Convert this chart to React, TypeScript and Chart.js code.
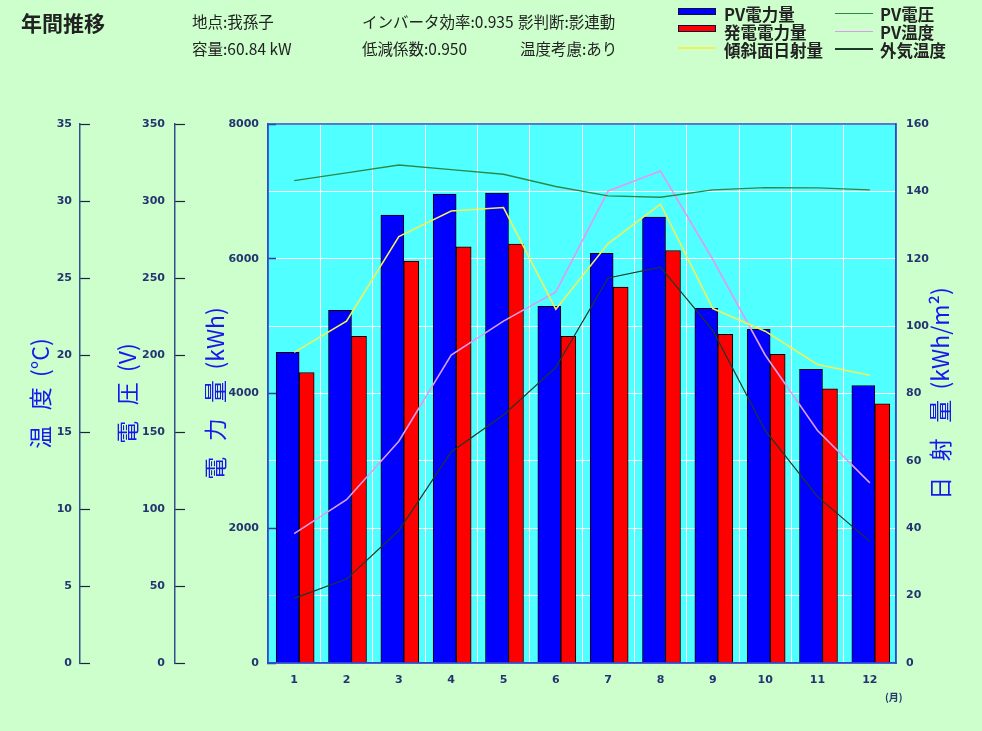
import React, { useEffect, useRef } from 'react';
import { Chart, registerables } from 'chart.js';

Chart.register(...registerables);

// ---------- data ----------
const months = ['1', '2', '3', '4', '5', '6', '7', '8', '9', '10', '11', '12'];
const pvEnergy = [4610, 5234, 6647, 6959, 6974, 5294, 6082, 6617, 5264, 4952, 4357, 4119];
const genEnergy = [4312, 4848, 5967, 6176, 6216, 4848, 5581, 6122, 4877, 4580, 4070, 3848];
const tiltIrradiance = [92.2, 101.5, 126.6, 134.2, 135.2, 105.0, 124.5, 136.2, 105.2, 98.5, 88.6, 85.4];
const pvVoltage = [313.2, 318.3, 323.4, 320.4, 317.4, 309.4, 303.3, 302.4, 307.2, 308.7, 308.5, 307.2];
const pvTemperature = [8.4, 10.6, 14.4, 20.0, 22.2, 24.1, 30.65, 31.95, 26.2, 20.0, 15.1, 11.7];
const outdoorTemperature = [4.2, 5.45, 8.6, 13.7, 16.1, 19.2, 25.0, 25.7, 21.6, 15.1, 10.8, 7.9];

const tempAxis = [0, 35, 5];
const voltAxis = [0, 350, 50];
const powerAxis = [0, 8000, 1000];
const powerLabelStep = 2000;
const irrAxis = [0, 160, 20];

const seriesLabels = ['PV電力量', '発電電力量', '傾斜面日射量', 'PV電圧', 'PV温度', '外気温度'];
const axisTitles = ['温   度  (°C)', '電   圧  (V)', '電   力   量  (kWh)', '日   射   量  (kWh/m²)'];
const headerTitle = '年間推移';
const headerRow1 = ['地点:我孫子', 'インバータ効率:0.935', '影判断:影連動'];
const headerRow2 = ['容量:60.84 kW', '低減係数:0.950', '温度考慮:あり'];
const monthUnit = '(月)';

// ---------- styles ----------
const W = 982;
const H = 731;
const PAGE_BG = '#ccffcc';
const PLOT_BG = '#50ffff';
const BLUE = '#0000ff';
const RED = '#ff0000';
const YELLOW = '#f0f058';
const GREEN = '#2a8a4a';
const PINK = '#dd9cee';
const DARK = '#1e3828';
const TICK_COLOR = '#243470';
const TITLE_COLOR = '#1818ee';
const AXIS_LINE = '#34508c';
const PLOT_BORDER = '#2c4cd0';
const CJK = '"Noto Sans CJK JP", sans-serif';
const BAR_GROUP_SHIFT = 5;

const tickFont = { family: '"DejaVu Sans", sans-serif', size: 11, weight: 'bold' as const };
const titleFont = { family: CJK, size: 23, weight: 'normal' as const };

const plotBgPlugin = {
  id: 'plotBg',
  beforeDraw(chart: any) {
    const { ctx, chartArea } = chart;
    ctx.save();
    ctx.fillStyle = PLOT_BG;
    ctx.fillRect(chartArea.left, chartArea.top, chartArea.right - chartArea.left, chartArea.bottom - chartArea.top);
    ctx.restore();
  },
};

const barShiftPlugin = {
  id: 'barShift',
  afterDatasetsUpdate(chart: any) {
    chart.data.datasets.forEach((ds: any, i: number) => {
      if (ds.type !== 'bar') return;
      chart.getDatasetMeta(i).data.forEach((el: any) => {
        el.x += BAR_GROUP_SHIFT;
      });
    });
  },
};

const borderPlugin = {
  id: 'plotBorder',
  afterDatasetsDraw(chart: any) {
    const { ctx, chartArea } = chart;
    ctx.save();
    ctx.strokeStyle = PLOT_BORDER;
    ctx.lineWidth = 1.5;
    ctx.strokeRect(chartArea.left, chartArea.top, chartArea.right - chartArea.left, chartArea.bottom - chartArea.top);
    ctx.restore();
  },
};

const rightTitlePlugin = {
  id: 'rightTitle',
  afterDraw(chart: any) {
    const { ctx, chartArea } = chart;
    const scale = chart.scales.yR;
    ctx.save();
    ctx.translate(scale.left + 44, (chartArea.top + chartArea.bottom) / 2);
    ctx.rotate(-Math.PI / 2);
    ctx.font = `${titleFont.size}px ${CJK}`;
    ctx.fillStyle = TITLE_COLOR;
    ctx.textAlign = 'center';
    ctx.textBaseline = 'middle';
    ctx.fillText(axisTitles[3], 0, 0);
    ctx.restore();
  },
};

function sideAxis(range: number[], title: string, weight: number, width: number, titlePad: number, tickLen: number, labelPad: number) {
  return {
    type: 'linear' as const,
    position: 'left' as const,
    weight,
    min: range[0],
    max: range[1],
    ticks: { stepSize: range[2], color: TICK_COLOR, font: tickFont, padding: labelPad },
    grid: { drawOnChartArea: false, drawTicks: true, tickLength: tickLen, tickColor: '#1c2440', tickWidth: 1.2 },
    border: { display: true, color: AXIS_LINE, width: 1.5 },
    title: { display: true, text: title, color: TITLE_COLOR, font: titleFont, padding: { top: titlePad, bottom: 0 } },
    afterFit(s: any) {
      s.width = width;
    },
  };
}

function ChartCanvas() {
  const ref = useRef<HTMLCanvasElement | null>(null);
  useEffect(() => {
    if (!ref.current) return;
    const chart = new Chart(ref.current, {
      type: 'bar',
      data: {
        labels: months,
        datasets: [
          { type: 'bar', label: seriesLabels[0], data: pvEnergy, backgroundColor: BLUE, borderColor: '#000000', borderWidth: 1, barThickness: 23, yAxisID: 'yP', order: 2 },
          { type: 'bar', label: seriesLabels[1], data: genEnergy, backgroundColor: RED, borderColor: '#000000', borderWidth: 1, barThickness: 15, yAxisID: 'yP', order: 2 },
          { type: 'line', label: seriesLabels[2], data: tiltIrradiance, borderColor: YELLOW, borderWidth: 1.6, pointRadius: 0, tension: 0, fill: false, yAxisID: 'yR', order: 1 },
          { type: 'line', label: seriesLabels[3], data: pvVoltage, borderColor: GREEN, borderWidth: 1.4, pointRadius: 0, tension: 0, fill: false, yAxisID: 'yV', order: 1 },
          { type: 'line', label: seriesLabels[4], data: pvTemperature, borderColor: PINK, borderWidth: 1.6, pointRadius: 0, tension: 0, fill: false, yAxisID: 'yT', order: 1 },
          { type: 'line', label: seriesLabels[5], data: outdoorTemperature, borderColor: DARK, borderWidth: 1.2, pointRadius: 0, tension: 0, fill: false, yAxisID: 'yT', order: 1 },
        ] as any,
      },
      options: {
        animation: false,
        responsive: false,
        maintainAspectRatio: false,
        layout: { padding: { left: 0, right: 0, top: 124, bottom: 0 } },
        plugins: { legend: { display: false }, tooltip: { enabled: false } },
        scales: {
          x: {
            type: 'category',
            offset: true,
            grid: { offset: true, color: '#ffffff', lineWidth: 1, drawTicks: false },
            border: { display: true, color: PLOT_BORDER, width: 1.5 },
            ticks: { color: TICK_COLOR, font: tickFont, padding: 11 },
            afterFit(s: any) {
              s.height = 68;
            },
          },
          yT: sideAxis(tempAxis, axisTitles[0], 3, 80, 26, -10, 18),
          yV: sideAxis(voltAxis, axisTitles[1], 2, 95, 33, -10, 20),
          yP: {
            type: 'linear',
            position: 'left',
            weight: 1,
            min: powerAxis[0],
            max: powerAxis[1],
            ticks: {
              stepSize: powerAxis[2],
              color: TICK_COLOR,
              font: tickFont,
              padding: 17,
              callback: (v: any) => (Number(v) % powerLabelStep === 0 ? String(v) : ''),
            },
            grid: {
              drawOnChartArea: true,
              color: '#ffffff',
              lineWidth: 1,
              drawTicks: true,
              tickLength: -8,
              tickWidth: 1.5,
              tickColor: (c: any) => (c.tick && c.tick.value % powerLabelStep === 0 ? '#2a3a90' : 'rgba(0,0,0,0)'),
            },
            border: { display: true, color: PLOT_BORDER, width: 1.5 },
            title: { display: true, text: axisTitles[2], color: TITLE_COLOR, font: titleFont, padding: { top: 26, bottom: 0 } },
            afterFit(s: any) {
              s.width = 93;
            },
          },
          yR: {
            type: 'linear',
            position: 'right',
            min: irrAxis[0],
            max: irrAxis[1],
            ticks: { stepSize: irrAxis[2], color: TICK_COLOR, font: tickFont, padding: 10 },
            grid: { drawOnChartArea: false, drawTicks: false },
            border: { display: true, color: PLOT_BORDER, width: 1.5 },
            afterFit(s: any) {
              s.width = 86;
            },
          },
        } as any,
      },
      plugins: [plotBgPlugin, barShiftPlugin, borderPlugin, rightTitlePlugin],
    });
    return () => chart.destroy();
  }, []);
  return <canvas ref={ref} width={W} height={H} style={{ position: 'absolute', left: 0, top: 0, width: W, height: H }} />;
}

function Swatch({ kind, color, left, top }: { kind: 'box' | 'line'; color: string; left: number; top: number }) {
  if (kind === 'box') {
    return <div style={{ position: 'absolute', left, top: top - 3, width: 36, height: 5, background: color, border: '1px solid #101040' }} />;
  }
  return <div style={{ position: 'absolute', left, top: top - 1, width: 38, height: 1.5, background: color }} />;
}

export default function App() {
  const text = (s: string, left: number, cy: number, size: number, bold = false, color = '#222222') => (
    <div
      key={s}
      style={{
        position: 'absolute',
        left,
        top: cy - 12,
        height: 24,
        lineHeight: '24px',
        fontSize: size,
        fontWeight: bold ? 'bold' : 'normal',
        color,
        whiteSpace: 'nowrap',
        fontFamily: CJK,
      }}
    >
      {s}
    </div>
  );
  const legendRows = [13.5, 31.5, 50];
  return (
    <div style={{ position: 'fixed', left: 0, top: 0, width: W, height: H, background: PAGE_BG, overflow: 'hidden' }}>
      <ChartCanvas />
      {text(headerTitle, 21, 22, 21, true)}
      {text(headerRow1[0], 192, 21, 15.5)}
      {text(headerRow1[1], 362, 21, 15.5)}
      {text(headerRow1[2], 518, 21, 15.5)}
      {text(headerRow2[0], 192, 48, 15.5)}
      {text(headerRow2[1], 362, 48, 15.5)}
      {text(headerRow2[2], 520, 48, 15.5)}
      <Swatch kind="box" color={BLUE} left={678} top={legendRows[0] - 3} />
      <Swatch kind="box" color={RED} left={678} top={legendRows[1] - 4} />
      <Swatch kind="line" color={YELLOW} left={678} top={legendRows[2] - 2} />
      {text(seriesLabels[0], 724, legendRows[0], 16.5, true)}
      {text(seriesLabels[1], 724, legendRows[1], 16.5, true)}
      {text(seriesLabels[2], 724, legendRows[2], 16.5, true)}
      <Swatch kind="line" color={GREEN} left={835} top={legendRows[0]} />
      <Swatch kind="line" color={PINK} left={835} top={legendRows[1]} />
      <Swatch kind="line" color={DARK} left={835} top={legendRows[2] - 1} />
      {text(seriesLabels[3], 880, legendRows[0], 16.5, true)}
      {text(seriesLabels[4], 880, legendRows[1], 16.5, true)}
      {text(seriesLabels[5], 880, legendRows[2], 16.5, true)}
      {text(monthUnit, 885, 697, 10, true, TICK_COLOR)}
    </div>
  );
}
